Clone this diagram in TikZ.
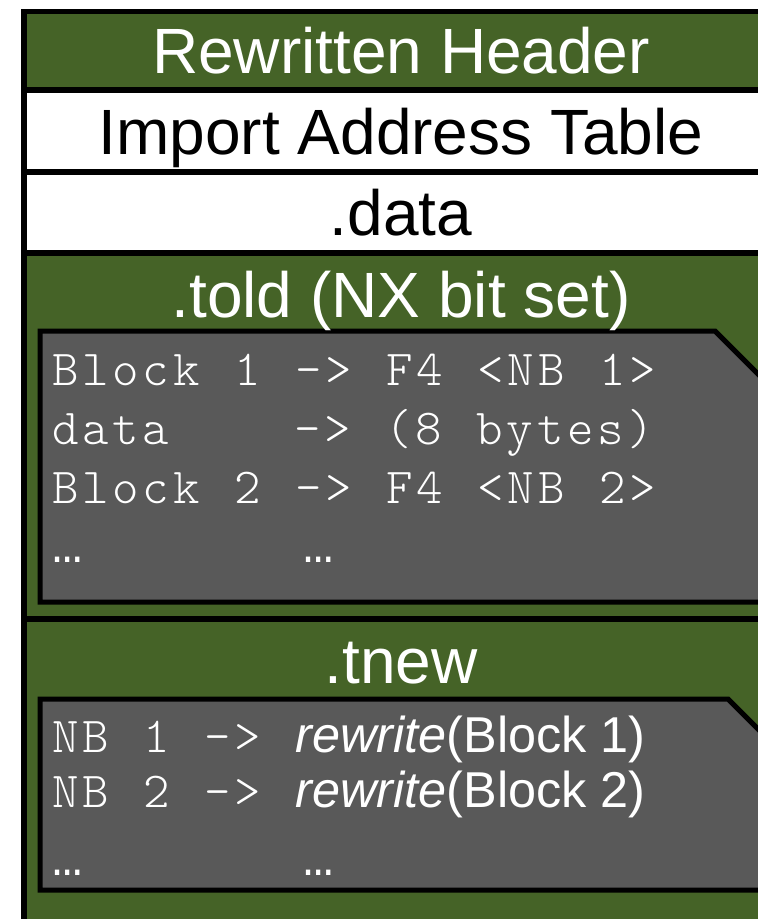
\documentclass[tikz,border=0pt]{standalone}
\usepackage{fontspec}
\setmainfont{Liberation Sans}
% thin typewriter face, spaced out to a 0.6em advance
\newfontfamily\codefont[LetterSpace=7.5, WordSpace=1.143]{lmmonolt10-regular.otf}
\newfontfamily\dotsfont{Liberation Mono}
\definecolor{sectgreen}{RGB}{69,99,39}
\definecolor{codegray}{RGB}{89,89,89}
\tikzset{
  sect/.style={draw=black, line width=5.5pt},
  codebox/.style={draw=black, fill=codegray, line width=5pt, line join=miter},
  title/.style={anchor=base, inner sep=0pt, text=white, font=\fontsize{64}{70}\selectfont},
  darktitle/.style={title, text=black},
  codeline/.style={anchor=base west, inner sep=0pt, text=white, font=\fontsize{50.4}{56}\selectfont},
}
\begin{document}
\begin{tikzpicture}[x=1pt, y=-1pt]
\useasboundingbox (0,0) rectangle (758,919);
\clip (0,0) rectangle (758,919);

% section bands of the image layout
\filldraw[sect, fill=sectgreen] (24,11.5) rectangle (778,90);
\filldraw[sect, fill=white]     (24,90)   rectangle (778,172);
\filldraw[sect, fill=white]     (24,172)  rectangle (778,253);
\filldraw[sect, fill=sectgreen] (24,253)  rectangle (778,619);
\filldraw[sect, fill=sectgreen] (24,619)  rectangle (778,990);

% code listings with a snipped top-right corner
\filldraw[codebox] (40,331) -- (715,331) -- (790,406) -- (790,602) -- (40,602) -- cycle;
\filldraw[codebox] (40,699) -- (728,699) -- (790,761) -- (790,890) -- (40,890) -- cycle;

% section titles
\node[title]     (hdr)  at (401,73)  {Rewritten Header};
\node[darktitle] (iat)  at (401,154) {Import Address Table};
\node[darktitle] (data) at (401,235) {.data};
\node[title]     (told) at (401,317) {.told (NX bit set)};
\node[title]     (tnew) at (401,683) {.tnew};

% contents of .told
\node[codeline] (o1)  at (52,385)  {\codefont Block~1~->~F4~<NB~1>};
\node[codeline] (o2a) at (52,444)  {\codefont data};
\node[codeline] (o2b) at (294,444) {\codefont ->~(8~bytes)};
\node[codeline] (o3)  at (52,503)  {\codefont Block~2~->~F4~<NB~2>};
\node[codeline] (o4a) at (52,562)  {\dotsfont …};
\node[codeline] (o4b) at (303,562) {\dotsfont …};

% contents of .tnew
\node[codeline] (n1)  at (52,752)  {{\codefont NB~1~->~}\textit{rewrite}(Block 1)};
\node[codeline] (n2)  at (52,807)  {{\codefont NB~2~->~}\textit{rewrite}(Block 2)};
\node[codeline] (n3a) at (52,875)  {\dotsfont …};
\node[codeline] (n3b) at (303,875) {\dotsfont …};
\end{tikzpicture}
\end{document}
